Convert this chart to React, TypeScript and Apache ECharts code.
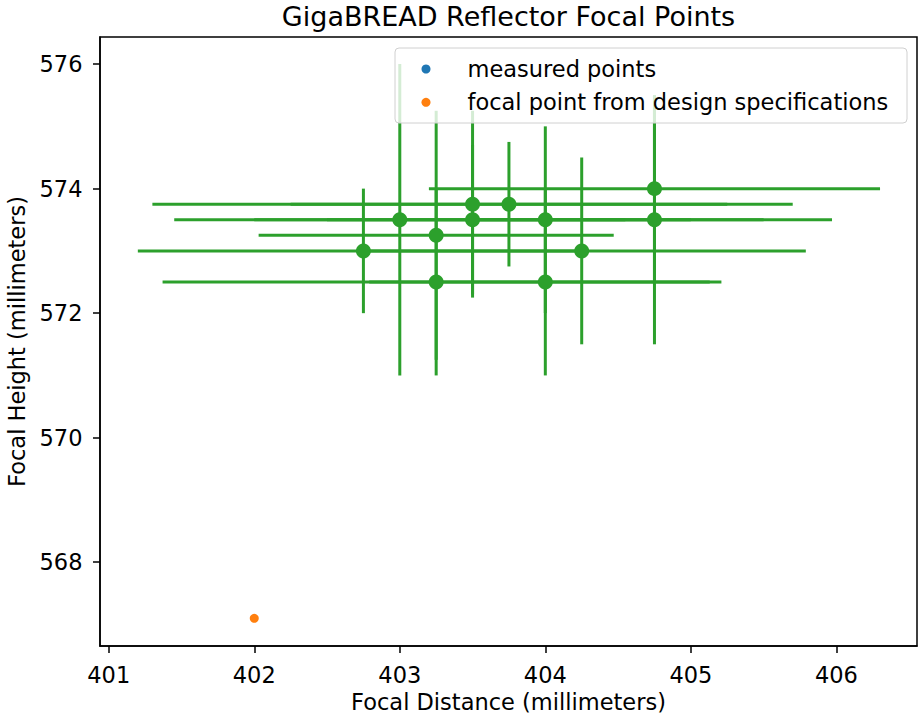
import React, { useEffect, useRef } from "react";
import * as echarts from "echarts";

// Measured focal points (millimeters)
const focalDistance = [402.75, 403, 403.25, 403.25, 403.5, 403.5, 403.75, 404, 404, 404.25, 404.75, 404.75];
const focalHeight = [573, 573.5, 573.25, 572.5, 573.75, 573.5, 573.75, 573.5, 572.5, 573, 574, 573.5];
const distanceError = [1.55, 1.55, 1.22, 1.88, 2.2, 1.5, 1.5, 1.5, 1.21, 1.54, 1.55, 1.22];
const heightError = [1, 2.5, 2, 1.5, 1.5, 1.2, 1, 1.5, 1.5, 1.5, 1.5, 2];

// Design specification focal point
const designDistance = [402];
const designHeight = [567.1];

// Tick labels
const xTicks = [401, 402, 403, 404, 405, 406];
const yTicks = [568, 570, 572, 574, 576];

const FONT = "DejaVu Sans";

export default function App() {
  const ref = useRef<HTMLDivElement>(null);

  useEffect(() => {
    if (!ref.current) return;
    const chart = echarts.init(ref.current, undefined, { renderer: "svg" });

    const measured = focalDistance.map((x, i) => [x, focalHeight[i]]);
    const errData = focalDistance.map((x, i) => [x, focalHeight[i], distanceError[i], heightError[i]]);
    const design = designDistance.map((x, i) => [x, designHeight[i]]);

    const axisText = { color: "#000", fontFamily: FONT, fontSize: 22.5 };

    chart.setOption({
      animation: false,
      backgroundColor: "#fff",
      textStyle: { fontFamily: FONT },
      title: {
        text: "GigaBREAD Reflector Focal Points",
        left: 508.5,
        top: 2,
        padding: 0,
        textAlign: "center",
        textStyle: { color: "#000", fontFamily: FONT, fontSize: 27, fontWeight: "normal", lineHeight: 28 },
      },
      grid: {
        left: 100,
        right: 1,
        top: 37,
        bottom: 72,
        show: true,
        borderColor: "#000",
        borderWidth: 1.5,
        backgroundColor: "transparent",
        containLabel: false,
        outerBoundsMode: "none",
      },
      legend: {
        data: ["measured points", "focal point from design specifications"],
        orient: "vertical",
        left: 421.5,
        top: 57,
        padding: 0,
        itemWidth: 73,
        itemHeight: 9,
        itemGap: 9.3,
        icon: "circle",
        z: 11,
        textStyle: { color: "#000", fontFamily: FONT, fontSize: 22.5, lineHeight: 24, padding: [0, 0, 0, 0] },
      },
      graphic: [
        {
          type: "rect",
          z: 10,
          shape: { x: 395, y: 48, width: 512, height: 75, r: 4 },
          style: { fill: "rgba(255,255,255,0.8)", stroke: "#d0d0d0", lineWidth: 1 },
        },
      ],
      xAxis: {
        type: "value",
        min: 400.94,
        max: 406.554,
        name: "Focal Distance (millimeters)",
        nameLocation: "middle",
        nameGap: 38,
        nameTextStyle: axisText,
        axisLine: { show: true, lineStyle: { color: "#000", width: 1.5 } },
        axisTick: { show: true, inside: false, length: 7, lineStyle: { color: "#000", width: 1.5 }, customValues: xTicks },
        axisLabel: { ...axisText, margin: 17, customValues: xTicks },
        splitLine: { show: false },
      },
      yAxis: {
        type: "value",
        min: 566.655,
        max: 576.435,
        name: "Focal Height (millimeters)",
        nameLocation: "middle",
        nameGap: 70,
        nameTextStyle: axisText,
        axisLine: { show: true, lineStyle: { color: "#000", width: 1.5 } },
        axisTick: { show: true, inside: false, length: 7, lineStyle: { color: "#000", width: 1.5 }, customValues: yTicks },
        axisLabel: { ...axisText, margin: 17.5, customValues: yTicks },
        splitLine: { show: false },
      },
      series: [
        {
          name: "measured points",
          type: "scatter",
          data: measured,
          symbol: "circle",
          symbolSize: 9,
          itemStyle: { color: "#1f77b4", opacity: 1 },
          z: 1,
        },
        {
          name: "focal point from design specifications",
          type: "scatter",
          data: design,
          symbol: "circle",
          symbolSize: 9,
          itemStyle: { color: "#ff7f0e", opacity: 1 },
          z: 2,
        },
        {
          name: "error bars",
          type: "custom",
          data: errData,
          encode: { x: 0, y: 1 },
          z: 3,
          renderItem: (_params: any, api: any) => {
            const x = api.value(0);
            const y = api.value(1);
            const ex = api.value(2);
            const ey = api.value(3);
            const l = api.coord([x - ex, y]);
            const r = api.coord([x + ex, y]);
            const t = api.coord([x, y + ey]);
            const b = api.coord([x, y - ey]);
            const style = { stroke: "#2ca02c", lineWidth: 3, fill: null };
            return {
              type: "group",
              children: [
                { type: "line", shape: { x1: l[0], y1: l[1], x2: r[0], y2: r[1] }, style },
                { type: "line", shape: { x1: t[0], y1: t[1], x2: b[0], y2: b[1] }, style },
              ],
            };
          },
        },
        {
          name: "measured markers",
          type: "scatter",
          data: measured,
          symbol: "circle",
          symbolSize: 15,
          itemStyle: { color: "#2ca02c", opacity: 1 },
          z: 4,
        },
      ],
    });

    return () => chart.dispose();
  }, []);

  return (
    <div
      ref={ref}
      style={{ position: "fixed", left: 0, top: 0, width: 918, height: 718, background: "#fff" }}
    />
  );
}
